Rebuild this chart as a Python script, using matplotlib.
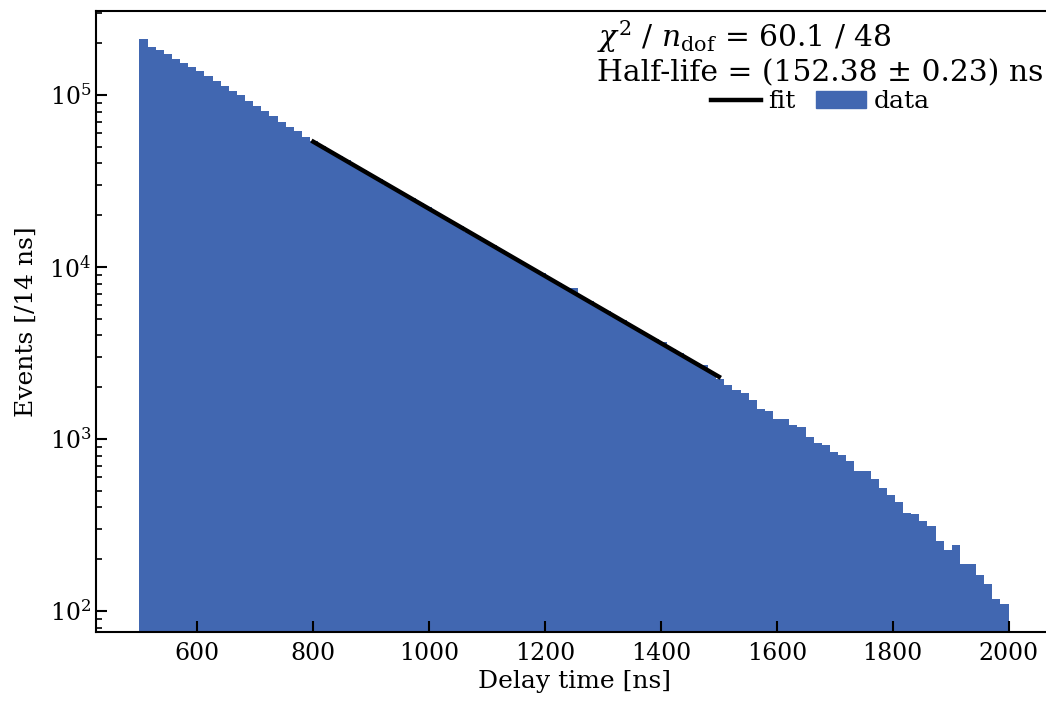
import numpy as np
import matplotlib.pyplot as plt
from matplotlib.lines import Line2D
from matplotlib.patches import Patch

plt.rcParams['font.family'] = 'DejaVu Serif'
plt.rcParams['mathtext.fontset'] = 'dejavuserif'

# histogram of delay times, 107 bins between 500 and 2000 ns
t_min = 500
t_max = 2000
counts = [
    211000, 190000, 181600, 172200, 161800, 153900, 145400, 137300, 128400, 121100,
    113200, 105900, 99600, 92700, 86300, 80400, 75200, 70000, 65500, 61500,
    57300, 54100, 50400, 47100, 44000, 41700, 38800, 36700, 34200, 32400,
    30100, 28500, 26600, 25200, 23400, 22200, 20600, 19600, 18200, 17300,
    16000, 15200, 14100, 13400, 12500, 11800, 11000, 10400, 9700, 9200,
    8550, 8100, 7500, 7550, 6650, 6300, 5850, 5550, 5150, 4900,
    4550, 4320, 4000, 3800, 3680, 3330, 3150, 2930, 2780, 2700,
    2420, 2220, 2050, 1930, 1840, 1690, 1490, 1460, 1300, 1300,
    1210, 1180, 1025, 950, 925, 845, 805, 740, 648, 648,
    585, 516, 472, 428, 373, 366, 334, 311, 256, 226,
    242, 187, 187, 161, 143, 118, 110,
]

# fitted exponential, end points of the fit range
fit_t = [800, 1500]
fit_y = [53500, 2300]

chi2 = 60.1
ndof = 48
half_life = 152.38
half_life_err = 0.23

edges = np.linspace(t_min, t_max, len(counts) + 1)
centers = 0.5 * (edges[:-1] + edges[1:])

fig = plt.figure(figsize=(10.46, 7.02), dpi=100)
ax = fig.add_axes([0.0918, 0.0997, 0.914, 0.8846])

ax.hist(centers, bins=edges, weights=counts, color='#4167b1', log=True)
ax.plot(fit_t, fit_y, color='black', lw=3.2)

for side in ['left', 'bottom', 'top', 'right']:
    ax.spines[side].set_linewidth(1.5)
ax.tick_params(axis='both', which='both', direction='in', labelsize=17, width=1.5)
ax.tick_params(axis='both', which='major', length=8)
ax.tick_params(axis='y', which='minor', length=4, width=1.2)
ax.tick_params(axis='x', which='minor', bottom=False)
ax.tick_params(axis='x', pad=7)

ax.set_xlabel('Delay time [ns]', fontsize=18)
ax.set_ylabel('Events [/14 ns]', fontsize=18, labelpad=8)

title = (r'$\chi^2$ / $n_\mathrm{dof}$ = ' + '{} / {}'.format(chi2, ndof) + '\n'
         + 'Half-life = ({:.2f} \u00b1 {:.2f}) ns'.format(half_life, half_life_err))
handles = [Line2D([], [], color='black', lw=3.2), Patch(color='#4167b1')]
leg = ax.legend(handles, ['fit', 'data'], ncol=2, frameon=False, fontsize=18,
                title=title, title_fontsize=21.4, loc='upper right',
                bbox_to_anchor=(1.004, 1.008), borderaxespad=0.1,
                handletextpad=0.3, columnspacing=0.8, labelspacing=0.2)
leg._legend_box.sep = 2

fig.savefig('out.png', dpi=100)
